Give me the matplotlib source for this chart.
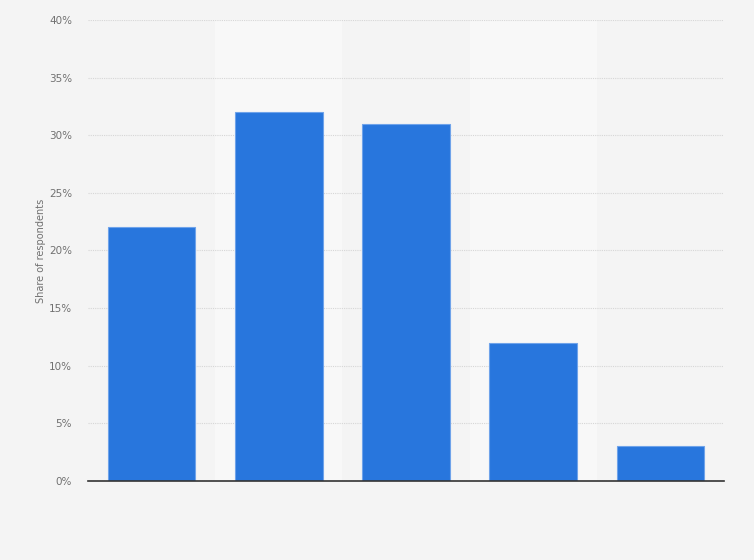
import matplotlib.pyplot as plt
from matplotlib.ticker import FuncFormatter

# values (no category labels are shown in the reference)
categories = ["A", "B", "C", "D", "E"]
shares = [22, 32, 31, 12, 3]
yticks = [0, 5, 10, 15, 20, 25, 30, 35, 40]

bg = "#f4f4f4"
band = "#f8f8f8"
bar_color = "#2876dd"

fig = plt.figure(figsize=(7.54, 5.6), dpi=100, facecolor=bg)
ax = fig.add_axes([0.1167, 0.1411, 0.8435, 0.8232])
ax.set_facecolor(bg)

x = list(range(len(categories)))

# lighter bands behind every second column
for i in x:
    if i % 2 == 1:
        ax.axvspan(i - 0.5, i + 0.5, color=band, zorder=0, lw=0)

ax.bar(x, shares, width=0.69, color=bar_color, edgecolor="#6fa3ea",
       linewidth=0.8, zorder=3)

ax.set_xlim(-0.5, len(categories) - 0.5)
ax.set_ylim(0, 40)
ax.set_yticks(yticks)
ax.yaxis.set_major_formatter(FuncFormatter(lambda v, p: f"{int(v)}%"))
ax.set_xticks(x)
ax.set_xticklabels([""] * len(categories))
ax.tick_params(axis="x", length=0)
ax.tick_params(axis="y", length=0, pad=11.5, labelsize=7.5, labelcolor="#707070")

ax.grid(axis="y", color="#d6d6d6", linestyle=(0, (1, 1)), linewidth=0.8, zorder=1)
ax.set_axisbelow(True)

for s in ["top", "right", "left"]:
    ax.spines[s].set_visible(False)
ax.spines["bottom"].set_color("#333333")
ax.spines["bottom"].set_linewidth(1.2)
ax.spines["bottom"].set_zorder(4)

ax.set_ylabel("Share of respondents", fontsize=7, color="#707070", labelpad=2)

fig.savefig("out.png", dpi=100, facecolor=bg)
